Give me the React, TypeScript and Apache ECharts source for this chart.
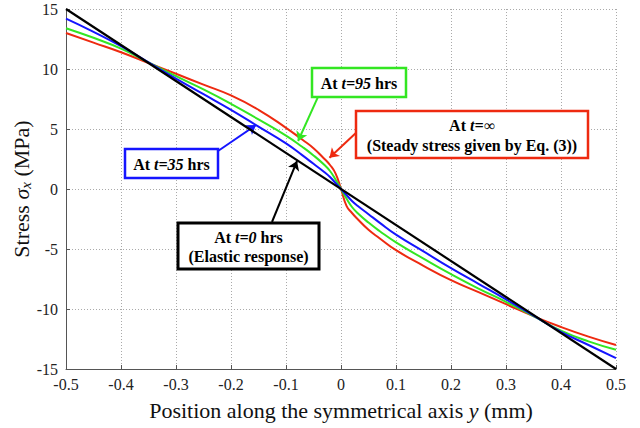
import React, { useEffect, useRef } from "react";
import * as echarts from "echarts";

// Position along the symmetrical axis y (mm)
const positions = [-0.5, -0.45, -0.4, -0.35, -0.3, -0.25, -0.2, -0.15, -0.1, -0.07, -0.05, -0.03, -0.02, -0.01, 0, 0.01, 0.02, 0.03, 0.05, 0.07, 0.1, 0.15, 0.2, 0.25, 0.3, 0.35, 0.4, 0.45, 0.5];
// Stress values (MPa)
const elasticX = [-0.5, 0.5];
const elasticT0 = [15, -15];
const stressT35 = [14.2, 13.1, 11.9, 10.55, 9.2, 7.9, 6.6, 5.2, 3.8, 2.8, 2.1, 1.4, 1.0, 0.5, 0, -0.5, -1.0, -1.4, -2.1, -2.8, -3.8, -5.2, -6.6, -7.9, -9.2, -10.55, -11.9, -13.0, -14.1];
const stressT95 = [13.4, 12.6, 11.7, 10.55, 9.4, 8.3, 7.1, 5.8, 4.45, 3.5, 2.8, 2.0, 1.5, 0.8, 0, -0.8, -1.5, -2.0, -2.8, -3.5, -4.45, -5.8, -7.1, -8.3, -9.4, -10.6, -11.8, -12.7, -13.4];
const stressInf = [13.0, 12.2, 11.4, 10.5, 9.6, 8.7, 7.8, 6.6, 5.1, 4.1, 3.4, 2.5, 2.0, 1.3, 0, -1.4, -2.0, -2.5, -3.4, -4.1, -5.1, -6.4, -7.6, -8.6, -9.6, -10.6, -11.5, -12.3, -13.0];

const BLUE = "#1515ff";
const GREEN = "#33e622";
const RED = "#ee2a10";
const BLACK = "#000000";

// arrows: [start, end] in data coordinates
const arrows = [
  { from: [-0.2236, 3.17], to: [-0.1545, 5.33], color: BLUE },
  { from: [-0.0418, 7.67], to: [-0.078, 4.0], color: GREEN },
  { from: [0.027, 4.67], to: [-0.021, 2.6], color: RED },
  { from: [-0.1255, -2.75], to: [-0.08, 2.33], color: BLACK },
];

const FONT = "Times New Roman";

export default function App() {
  const ref = useRef<HTMLDivElement>(null);
  useEffect(() => {
    if (!ref.current) return;
    const chart = echarts.init(ref.current, undefined, { renderer: "svg" });
    const toData = (vals: number[]) => positions.map((x, i) => [x, vals[i]]);
    const rb = { fontFamily: FONT, fontSize: 16, fontWeight: "bold", fill: "#000", color: "#000" } as any;
    const rbi = { ...rb, fontStyle: "italic" };
    const box = (x: number, y: number, w: number, h: number, color: string, lw: number) => ({
      type: "rect",
      z: 100,
      shape: { x, y, width: w, height: h },
      style: { fill: "#fff", stroke: color, lineWidth: lw },
    });
    const txt = (x: number, y: number, text: string) => ({
      type: "text",
      z: 101,
      x,
      y,
      style: {
        text,
        rich: { b: rb, bi: rbi },
        align: "center",
        verticalAlign: "middle",
        fontFamily: FONT,
        fontSize: 16,
      },
    });
    const lineSeries = (name: string, vals: number[], color: string, z: number) => ({
      name,
      type: "line",
      data: toData(vals),
      showSymbol: false,
      smooth: true,
      lineStyle: { color, width: 2 },
      z,
    });
    chart.setOption({
      animation: false,
      backgroundColor: "#fff",
      textStyle: { fontFamily: FONT },
      grid: { left: 66, right: 24, top: 9, bottom: 59, containLabel: false, outerBoundsMode: "none" },
      xAxis: {
        type: "value",
        min: -0.5,
        max: 0.5,
        interval: 0.1,
        name: "{a|Position along the symmetrical axis }{i|y}{a| (mm)}",
        nameLocation: "middle",
        nameGap: 30,
        nameTextStyle: {
          fontFamily: FONT,
          rich: {
            a: { fontFamily: FONT, fontSize: 22, color: "#111" },
            i: { fontFamily: FONT, fontSize: 22, color: "#111", fontStyle: "italic" },
          },
        },
        axisLine: { show: true, onZero: false, lineStyle: { color: "#555", width: 1 } },
        axisTick: { show: true, inside: true, length: 4, lineStyle: { color: "#555" } },
        axisLabel: {
          fontFamily: FONT,
          fontSize: 16,
          color: "#222",
          margin: 7,
          formatter: (v: number) => {
            const r = Math.round(v * 10) / 10;
            return r === 0 ? "0" : r.toFixed(1);
          },
        },
        splitLine: { show: true, lineStyle: { color: "#aaa", type: [1, 2], width: 1 } },
      },
      yAxis: {
        type: "value",
        min: -15,
        max: 15,
        interval: 5,
        name: "{a|Stress }{s|σ}{x|x}{a| (MPa)}",
        nameLocation: "middle",
        nameGap: 33,
        nameMoveOverlap: false,
        nameTextStyle: {
          fontFamily: FONT,
          rich: {
            a: { fontFamily: FONT, fontSize: 22, color: "#111" },
            s: { fontFamily: FONT, fontSize: 22, color: "#111", fontStyle: "italic" },
            x: { fontFamily: FONT, fontSize: 15, color: "#111", fontStyle: "italic", verticalAlign: "bottom", padding: [9, 0, 0, 0] },
          },
        },
        axisLine: { show: true, onZero: false, lineStyle: { color: "#555", width: 1 } },
        axisTick: { show: true, inside: true, length: 4, lineStyle: { color: "#555" } },
        axisLabel: { fontFamily: FONT, fontSize: 16, color: "#222", margin: 8 },
        splitLine: { show: true, lineStyle: { color: "#aaa", type: [1, 2], width: 1 } },
      },
      series: [
        lineSeries("t=inf", stressInf, RED, 3),
        lineSeries("t=95", stressT95, GREEN, 4),
        lineSeries("t=35", stressT35, BLUE, 5),
        {
          name: "t=0",
          type: "line",
          data: elasticX.map((x, i) => [x, elasticT0[i]]),
          showSymbol: false,
          lineStyle: { color: BLACK, width: 2.2 },
          z: 6,
          markLine: {
            silent: true,
            symbol: ["none", "arrow"],
            symbolSize: 9,
            label: { show: false },
            data: arrows.map((a) => [
              { coord: a.from, lineStyle: { color: a.color, width: 2, type: "solid" }, itemStyle: { color: a.color } },
              { coord: a.to },
            ]),
          },
        },
      ],
      graphic: [
        box(125, 149, 93, 29, BLUE, 2.5),
        txt(171.5, 164, "{b|At }{bi|t=35}{b| hrs}"),
        box(312, 68, 94, 29, GREEN, 2.5),
        txt(359, 83, "{b|At }{bi|t=95}{b| hrs}"),
        box(356, 111, 232, 47, RED, 2.5),
        txt(472, 125, "{b|At }{bi|t=∞}"),
        txt(472, 145, "{b|(Steady stress given by Eq. (3))}"),
        box(178, 223, 141, 46, BLACK, 3),
        txt(248.5, 237, "{b|At }{bi|t=0}{b| hrs}"),
        txt(248.5, 256, "{b|(Elastic response)}"),
      ],
    });
    return () => chart.dispose();
  }, []);
  return (
    <div
      ref={ref}
      style={{ position: "fixed", left: 0, top: 0, width: 640, height: 428, background: "#fff" }}
    />
  );
}
